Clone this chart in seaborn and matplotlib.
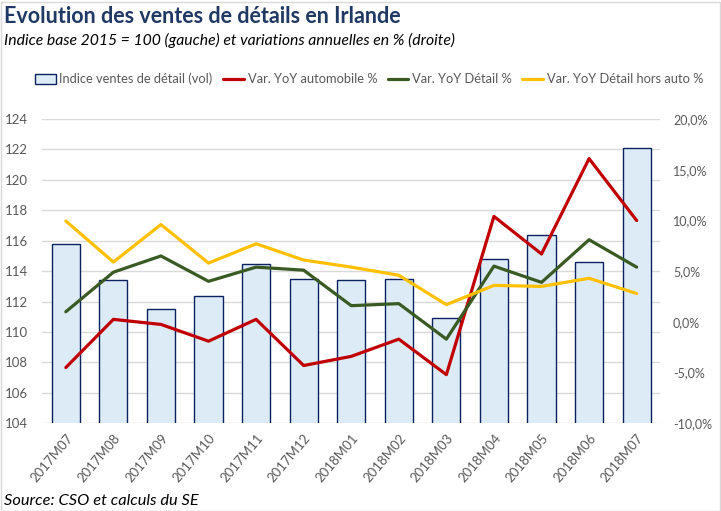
import matplotlib
matplotlib.use("Agg")
import matplotlib.pyplot as plt
import matplotlib.ticker as mticker
from matplotlib.patches import Patch, Rectangle
from matplotlib.lines import Line2D
import numpy as np
import pandas as pd
import seaborn as sns

months = ["2017M07", "2017M08", "2017M09", "2017M10", "2017M11", "2017M12",
          "2018M01", "2018M02", "2018M03", "2018M04", "2018M05", "2018M06", "2018M07"]
indice_vol = [115.8, 113.4, 111.5, 112.4, 114.5, 113.5, 113.4, 113.5, 110.9, 114.8, 116.4, 114.6, 122.1]
yoy_auto = [-4.5, 0.25, -0.25, -1.9, 0.25, -4.3, -3.4, -1.7, -5.2, 10.4, 6.7, 16.1, 10.0]
yoy_detail = [1.0, 4.9, 6.5, 4.0, 5.4, 5.1, 1.6, 1.8, -1.7, 5.5, 3.9, 8.1, 5.4]
yoy_hors_auto = [9.95, 5.9, 9.6, 5.8, 7.7, 6.1, 5.4, 4.6, 1.7, 3.6, 3.5, 4.3, 2.8]

bar_fill = "#DDEBF7"
bar_edge = "#0B2260"
c_auto = "#C00000"
c_detail = "#3A5A24"
c_hors = "#FFC000"
grey_txt = "#595959"

sns.set_style("white")
plt.rcParams["font.family"] = ["Lato", "DejaVu Sans"]

df = pd.DataFrame({"mois": months, "indice": indice_vol})
pos = np.arange(len(months))

fig = plt.figure(figsize=(7.21, 5.11), dpi=100)
ax = fig.add_axes([0.0583, 0.1716, 0.8577, 0.5954])

sns.barplot(data=df, x="mois", y="indice", color=bar_fill, edgecolor=bar_edge,
            linewidth=1.0, width=0.59, saturation=1, ax=ax)
ax.set_ylim(104, 124)
ax.set_yticks(np.arange(104, 125, 2))
ax.yaxis.grid(True, color="#D9D9D9", linewidth=1)
ax.set_axisbelow(True)
ax.set_xlim(-0.5, len(months) - 0.5)
ax.set_xlabel("")
ax.set_ylabel("")
for s in ax.spines.values():
    s.set_visible(False)
ax.tick_params(axis="both", length=0, labelsize=9.5, colors=grey_txt, pad=6)
ax.tick_params(axis="y", pad=10)
plt.setp(ax.get_xticklabels(), rotation=50, ha="right", rotation_mode="anchor")

ax2 = ax.twinx()
sns.lineplot(x=pos, y=yoy_auto, color=c_auto, linewidth=2.3, ax=ax2)
sns.lineplot(x=pos, y=yoy_detail, color=c_detail, linewidth=2.3, ax=ax2)
sns.lineplot(x=pos, y=yoy_hors_auto, color=c_hors, linewidth=2.3, ax=ax2)
ax2.set_ylim(-10, 20)
ax2.set_yticks(np.arange(-10, 21, 5))
ax2.yaxis.set_major_formatter(mticker.FuncFormatter(lambda v, p: f"{v:.1f}%".replace(".", ",")))
for s in ax2.spines.values():
    s.set_visible(False)
ax2.tick_params(axis="y", length=0, labelsize=9, colors=grey_txt, pad=9)
ax2.set_xlim(-0.5, len(months) - 0.5)

fig.text(0.006, 0.968, "Evolution des ventes de détails en Irlande", fontsize=15.5,
         fontweight="bold", color="#1F3864", va="center", ha="left")
fig.text(0.006, 0.921, "Indice base 2015 = 100 (gauche) et variations annuelles en % (droite)",
         fontsize=11.3, style="italic", color="black", va="center", ha="left")
fig.text(0.005, 0.02, "Source: CSO et calculs du SE", fontsize=11.8, style="italic",
         color="black", va="center", ha="left")

handles = [Patch(facecolor=bar_fill, edgecolor=bar_edge, linewidth=1.0),
           Line2D([], [], color=c_auto, linewidth=2.3),
           Line2D([], [], color=c_detail, linewidth=2.3),
           Line2D([], [], color=c_hors, linewidth=2.3)]
labels = ["Indice ventes de détail (vol)", "Var. YoY automobile %",
          "Var. YoY Détail %", "Var. YoY Détail hors auto %"]
fig.legend(handles, labels, loc="center", bbox_to_anchor=(0.512, 0.845), ncol=4,
           frameon=False, fontsize=9.3, labelcolor=grey_txt, handlelength=1.6,
           handleheight=0.8, handletextpad=0.3, columnspacing=0.8)

fig.add_artist(Rectangle((0.001, 0.0), 0.998, 0.997, transform=fig.transFigure,
                         fill=False, edgecolor="#D9D9D9", linewidth=1))

fig.savefig("out.png", dpi=100)
